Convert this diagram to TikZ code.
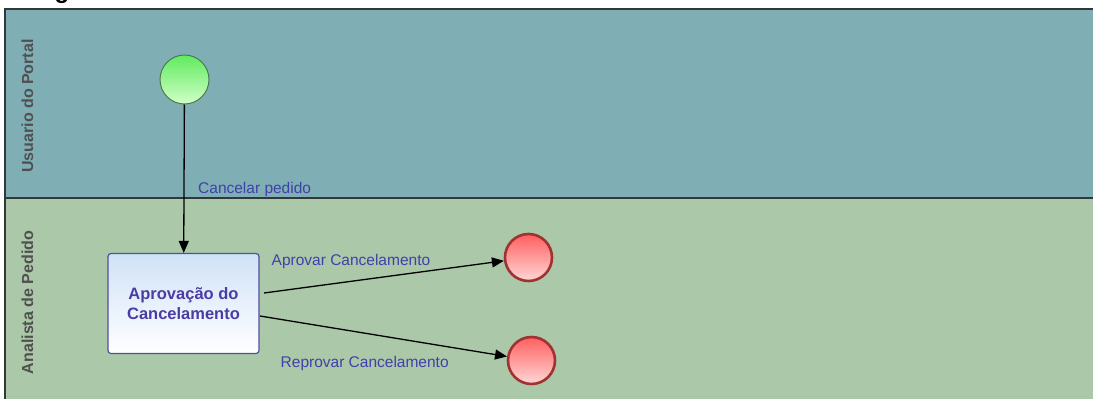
\documentclass[tikz,border=0pt]{standalone}
\usepackage{fontspec}
\setmainfont{Liberation Sans}
\usetikzlibrary{arrows.meta,shadings}
\definecolor{laneA}{RGB}{127,175,181}
\definecolor{laneB}{RGB}{171,200,168}
\definecolor{poolline}{RGB}{50,55,58}
\definecolor{lanetext}{RGB}{80,80,80}
\definecolor{flowtext}{RGB}{64,64,170}
\definecolor{tasktext}{RGB}{75,60,165}
\definecolor{taskline}{RGB}{80,80,160}
\tikzset{
  pool/.style={draw=poolline, line width=1.4pt},
  lanelabel/.style={rotate=90, anchor=base, text=lanetext, font=\bfseries\fontsize{16}{18}\selectfont, inner sep=0pt},
  startev/.style={circle, minimum size=49pt, inner sep=0pt, draw={rgb,255:red,80;green,120;blue,80}, line width=1pt, top color={rgb,255:red,95;green,235;blue,95}, bottom color={rgb,255:red,210;green,255;blue,200}},
  endev/.style={circle, minimum size=47pt, inner sep=0pt, draw={rgb,255:red,160;green,50;blue,50}, line width=2.6pt, top color={rgb,255:red,255;green,95;blue,95}, bottom color={rgb,255:red,255;green,215;blue,215}},
  taskbox/.style={rectangle, rounded corners=3pt, minimum width=151pt, minimum height=100pt, inner sep=0pt, draw=taskline, line width=1.2pt, top color={rgb,255:red,208;green,226;blue,247}, bottom color=white, text=tasktext, align=center, font=\bfseries\fontsize{16.5}{20}\selectfont},
  flow/.style={draw=black, line width=1.3pt, -{Triangle[length=12pt,width=10pt]}},
  flowlabel/.style={anchor=base west, inner sep=0pt, text=flowtext, font=\fontsize{15.5}{18}\selectfont}
}
\begin{document}
\begin{tikzpicture}[x=1pt,y=-1pt]
\useasboundingbox (0,0) rectangle (1093,399);
\begin{scope}
  \clip (0,0) rectangle (1093,399);
  \node[anchor=base, inner sep=0pt, font=\bfseries\fontsize{24}{24}\selectfont] (heading) at (62,-2) {g};
  \fill[laneA] (5,9) rectangle (1100,198);
  \fill[laneB] (5,198) rectangle (1100,410);
  \draw[pool] (1100,9) -- (5,9) -- (5,410);
  \draw[pool] (5,198) -- (1100,198);
\end{scope}
\node[lanelabel] (lane1) at (33,106) {Usuario do Portal};
\node[lanelabel] (lane2) at (33,302.5) {Analista de Pedido};

\node[startev] (start) at (184.5,79.5) {};
\node[taskbox] (task) at (183.5,303.5) {Aprovação do\\Cancelamento};
\node[endev] (end1) at (528.5,257.5) {};
\node[endev] (end2) at (531.5,360.5) {};

\coordinate (o1) at (264,293);
\coordinate (o2) at (260,316);

\draw[flow] (start) -- (task);
\draw[flow] (o1) -- (end1);
\draw[flow] (o2) -- (end2);

\node[flowlabel] (l0) at (198,193) {Cancelar pedido};
\node[flowlabel] (l1) at (271.5,265) {Aprovar Cancelamento};
\node[flowlabel] (l2) at (280.5,367.5) {Reprovar Cancelamento};
\end{tikzpicture}
\end{document}
